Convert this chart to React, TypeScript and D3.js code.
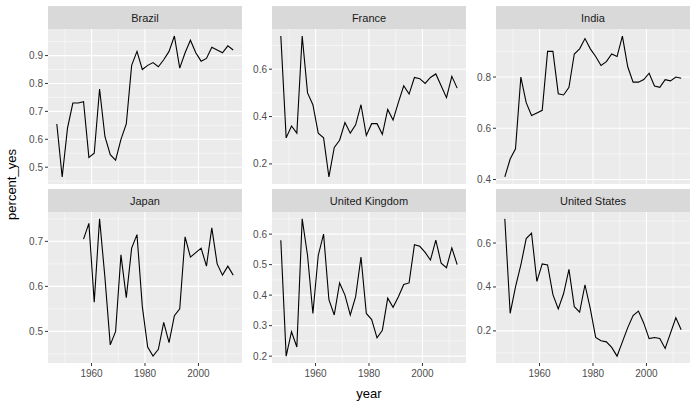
import * as d3 from 'd3';
import { useEffect, useRef } from 'react';

const countries = ['Brazil', 'France', 'India', 'Japan', 'United Kingdom', 'United States'];
const yearsAll = d3.range(1947, 2014, 2);
const yearsJapan = d3.range(1957, 2014, 2);

const brazil = [.655, .465, .64, .73, .73, .735, .535, .55, .78, .61, .545, .525, .60, .655, .865, .915, .85, .865, .875, .86, .885, .915, .97, .855, .91, .955, .91, .88, .89, .93, .92, .91, .935, .92];
const france = [.74, .31, .36, .33, .74, .50, .45, .33, .31, .145, .27, .30, .375, .33, .365, .45, .32, .37, .37, .325, .43, .385, .46, .53, .495, .565, .56, .54, .565, .58, .53, .48, .57, .52];
const india = [.41, .48, .52, .80, .70, .65, .66, .67, .90, .90, .735, .73, .76, .89, .91, .95, .91, .88, .845, .86, .89, .88, .96, .84, .78, .78, .79, .815, .765, .76, .79, .785, .80, .795];
const japan = [.705, .74, .565, .75, .62, .47, .50, .67, .575, .685, .715, .555, .465, .445, .46, .52, .475, .535, .55, .71, .665, .675, .685, .645, .73, .65, .625, .645, .625];
const uk = [.58, .20, .28, .23, .65, .53, .34, .53, .60, .385, .335, .44, .40, .335, .395, .525, .34, .32, .26, .285, .39, .36, .395, .435, .44, .565, .56, .54, .515, .58, .505, .49, .555, .50];
const us = [.71, .28, .40, .50, .62, .645, .425, .505, .50, .365, .30, .37, .48, .31, .285, .41, .30, .17, .155, .15, .125, .085, .15, .215, .27, .29, .235, .165, .17, .165, .12, .19, .26, .205];

const seriesValues = [brazil, france, india, japan, uk, us];
const seriesYears = [yearsAll, yearsAll, yearsAll, yearsJapan, yearsAll, yearsAll];
const yTickStep = [0.1, 0.2, 0.2, 0.1, 0.1, 0.2];
const xTicks = [1960, 1980, 2000];

const W = 697, H = 406;

const App = () => {
  const ref = useRef<SVGSVGElement>(null);

  useEffect(() => {
    const svg = d3.select(ref.current);
    svg.selectAll('*').remove();
    const font = 'Liberation Sans, Arial, sans-serif';

    const colX = [48, 272, 496];
    const pw = 194;
    const rowTop = [6, 189];
    const stripH = 23;
    const ph = [155, 151];

    const xs = d3.scaleLinear().domain([1947 - 3.3, 2013 + 3.3]);

    countries.forEach((name, i) => {
      const col = i % 3, row = Math.floor(i / 3);
      const x0 = colX[col], top = rowTop[row];
      const py = top + stripH;
      const g = svg.append('g');
      const vals = seriesValues[i], yrs = seriesYears[i];
      const [lo, hi] = d3.extent(vals) as [number, number];
      const pad = (hi - lo) * 0.05;
      const y = d3.scaleLinear().domain([lo - pad, hi + pad]).range([py + ph[row], py]);
      const x = xs.copy().range([x0, x0 + pw]);

      g.append('rect').attr('x', x0).attr('y', top).attr('width', pw).attr('height', stripH).attr('fill', '#d9d9d9');
      g.append('text').attr('x', x0 + pw / 2).attr('y', top + stripH / 2 + 4).attr('text-anchor', 'middle')
        .attr('font-family', font).attr('font-size', 11).attr('fill', '#1a1a1a').text(name);
      g.append('rect').attr('x', x0).attr('y', py).attr('width', pw).attr('height', ph[row]).attr('fill', '#ebebeb');

      const step = yTickStep[i];
      const yt = d3.range(Math.ceil((lo - pad) / step - 1e-9) * step, hi + pad + 1e-9, step).map(v => +v.toFixed(2));
      const ym = d3.range(Math.ceil((lo - pad) / (step / 2) - 1e-9) * (step / 2), hi + pad, step / 2)
        .map(v => +v.toFixed(3)).filter(v => !yt.some(t => Math.abs(t - v) < 1e-6));
      const xm = [1950, 1970, 1990, 2010];

      ym.forEach(v => g.append('line').attr('x1', x0).attr('x2', x0 + pw).attr('y1', y(v)).attr('y2', y(v)).attr('stroke', '#fff').attr('stroke-width', 0.5));
      xm.forEach(v => g.append('line').attr('x1', x(v)).attr('x2', x(v)).attr('y1', py).attr('y2', py + ph[row]).attr('stroke', '#fff').attr('stroke-width', 0.5));
      yt.forEach(v => {
        g.append('line').attr('x1', x0).attr('x2', x0 + pw).attr('y1', y(v)).attr('y2', y(v)).attr('stroke', '#fff').attr('stroke-width', 1.1);
        g.append('line').attr('x1', x0 - 3).attr('x2', x0).attr('y1', y(v)).attr('y2', y(v)).attr('stroke', '#333');
        g.append('text').attr('x', x0 - 5).attr('y', y(v) + 3.5).attr('text-anchor', 'end').attr('font-family', font)
          .attr('font-size', 10).attr('fill', '#4d4d4d').text(d3.format('.1f')(v));
      });
      xTicks.forEach(v => {
        g.append('line').attr('x1', x(v)).attr('x2', x(v)).attr('y1', py).attr('y2', py + ph[row]).attr('stroke', '#fff').attr('stroke-width', 1.1);
        if (row === 1) {
          g.append('line').attr('x1', x(v)).attr('x2', x(v)).attr('y1', py + ph[row]).attr('y2', py + ph[row] + 3).attr('stroke', '#333');
          g.append('text').attr('x', x(v)).attr('y', py + ph[row] + 14).attr('text-anchor', 'middle').attr('font-family', font)
            .attr('font-size', 10).attr('fill', '#4d4d4d').text(v);
        }
      });

      const line = d3.line<number>().x((_, j) => x(yrs[j])).y(d => y(d));
      g.append('path').attr('d', line(vals)).attr('fill', 'none').attr('stroke', '#000').attr('stroke-width', 1.1);
    });

    svg.append('text').attr('x', (colX[0] + colX[2] + pw) / 2).attr('y', 398).attr('text-anchor', 'middle')
      .attr('font-family', font).attr('font-size', 13).text('year');
    svg.append('text').attr('transform', `translate(16,${(6 + 363) / 2}) rotate(-90)`).attr('text-anchor', 'middle')
      .attr('font-family', font).attr('font-size', 13).text('percent_yes');
  }, []);

  return <svg ref={ref} width={W} height={H} style={{ position: 'absolute', left: 0, top: 0, background: '#fff' }} />;
};

export default App;
